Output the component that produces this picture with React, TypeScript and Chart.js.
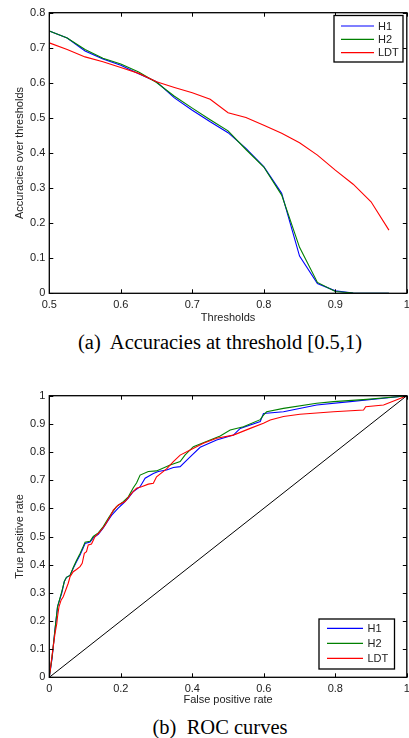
import React, { useEffect, useRef } from 'react';
import { Chart, registerables } from 'chart.js';
Chart.register(...registerables);

// ---------- Data: accuracies over thresholds ----------
const thresholds = [0.5, 0.525, 0.55, 0.575, 0.6, 0.625, 0.65, 0.675, 0.7, 0.725, 0.75, 0.775, 0.8, 0.825, 0.85, 0.875, 0.9, 0.925, 0.95, 0.975];
const accH1 = [0.748, 0.728, 0.691, 0.668, 0.650, 0.626, 0.603, 0.557, 0.522, 0.489, 0.458, 0.413, 0.361, 0.285, 0.106, 0.028, 0.007, 0.001, 0, 0];
const accH2 = [0.748, 0.728, 0.695, 0.670, 0.654, 0.631, 0.601, 0.562, 0.528, 0.495, 0.463, 0.410, 0.360, 0.280, 0.131, 0.031, 0.005, 0.001, 0, 0];
const accLDT = [0.714, 0.695, 0.674, 0.660, 0.644, 0.627, 0.603, 0.587, 0.572, 0.553, 0.515, 0.501, 0.479, 0.456, 0.429, 0.394, 0.351, 0.311, 0.261, 0.180];

// ---------- Data: ROC curves ----------
const rocH1Fpr = [0, 0.008, 0.016, 0.023, 0.026, 0.035, 0.042, 0.048, 0.058, 0.067, 0.076, 0.086, 0.095, 0.100, 0.114, 0.123, 0.137, 0.151, 0.165, 0.174, 0.192, 0.207, 0.221, 0.235, 0.254, 0.268, 0.291, 0.305, 0.328, 0.347, 0.366, 0.394, 0.422, 0.468, 0.515, 0.534, 0.590, 0.599, 0.655, 0.748, 0.841, 0.935, 1];
const rocH1Tpr = [0, 0.07, 0.17, 0.25, 0.263, 0.30, 0.34, 0.355, 0.362, 0.387, 0.41, 0.434, 0.46, 0.475, 0.48, 0.495, 0.508, 0.53, 0.558, 0.575, 0.60, 0.618, 0.636, 0.66, 0.677, 0.707, 0.724, 0.731, 0.736, 0.745, 0.748, 0.783, 0.817, 0.843, 0.86, 0.884, 0.908, 0.937, 0.943, 0.967, 0.979, 0.991, 1];
const rocH2Fpr = [0, 0.008, 0.016, 0.023, 0.035, 0.042, 0.048, 0.058, 0.067, 0.076, 0.086, 0.095, 0.100, 0.114, 0.123, 0.137, 0.151, 0.165, 0.174, 0.188, 0.207, 0.221, 0.235, 0.244, 0.254, 0.277, 0.300, 0.338, 0.366, 0.380, 0.403, 0.450, 0.478, 0.506, 0.543, 0.590, 0.599, 0.608, 0.655, 0.748, 0.795, 0.888, 0.981, 1];
const rocH2Tpr = [0, 0.075, 0.17, 0.25, 0.305, 0.34, 0.355, 0.362, 0.39, 0.415, 0.44, 0.465, 0.48, 0.483, 0.50, 0.513, 0.535, 0.565, 0.582, 0.606, 0.624, 0.641, 0.673, 0.69, 0.718, 0.731, 0.733, 0.754, 0.766, 0.79, 0.819, 0.843, 0.857, 0.878, 0.89, 0.915, 0.931, 0.943, 0.955, 0.973, 0.979, 0.987, 0.997, 1];
const rocLDTFpr = [0, 0.006, 0.011, 0.016, 0.021, 0.023, 0.027, 0.033, 0.039, 0.046, 0.053, 0.058, 0.067, 0.076, 0.086, 0.092, 0.098, 0.104, 0.109, 0.118, 0.128, 0.142, 0.156, 0.170, 0.179, 0.193, 0.212, 0.230, 0.244, 0.258, 0.277, 0.291, 0.300, 0.328, 0.347, 0.366, 0.394, 0.431, 0.468, 0.515, 0.562, 0.599, 0.618, 0.655, 0.701, 0.795, 0.879, 0.885, 0.935, 0.981, 1];
const rocLDTTpr = [0, 0.06, 0.109, 0.156, 0.191, 0.215, 0.25, 0.274, 0.286, 0.31, 0.334, 0.357, 0.375, 0.383, 0.393, 0.405, 0.44, 0.446, 0.47, 0.473, 0.50, 0.517, 0.541, 0.571, 0.594, 0.612, 0.624, 0.653, 0.671, 0.677, 0.686, 0.689, 0.712, 0.74, 0.766, 0.789, 0.807, 0.831, 0.849, 0.86, 0.884, 0.902, 0.914, 0.926, 0.934, 0.943, 0.949, 0.961, 0.967, 0.99, 1];
const chanceFpr = [0, 1];
const chanceTpr = [0, 1];

const seriesNames = ['H1', 'H2', 'LDT'];
const seriesColors = ['#0000ff', '#008000', '#ff0000'];

const FONT = '"Liberation Sans", Arial, Helvetica, sans-serif';
const TEXT = '#222';

const zip = (xs: number[], ys: number[]) => xs.map((x, i) => ({ x, y: ys[i] }));
const fmt = (v: any) => String(+Number(v).toFixed(1));

const matlabPlugin = {
  id: 'matlabFrame',
  afterDatasetsDraw(chart: any, _args: any, opts: any) {
    const { ctx, chartArea: a, scales } = chart;
    ctx.save();
    ctx.strokeStyle = '#000';
    ctx.lineWidth = 1;
    const tl = 4;
    ctx.beginPath();
    for (const t of scales.x.ticks) {
      const px = Math.round(scales.x.getPixelForValue(t.value)) + 0.5;
      ctx.moveTo(px, a.bottom); ctx.lineTo(px, a.bottom - tl);
      ctx.moveTo(px, a.top); ctx.lineTo(px, a.top + tl);
    }
    for (const t of scales.y.ticks) {
      const py = Math.round(scales.y.getPixelForValue(t.value)) + 0.5;
      ctx.moveTo(a.left, py); ctx.lineTo(a.left + tl, py);
      ctx.moveTo(a.right, py); ctx.lineTo(a.right - tl, py);
    }
    ctx.stroke();
    ctx.lineWidth = 1.3;
    ctx.strokeRect(a.left, a.top, a.right - a.left, a.bottom - a.top);

    const lg = opts.legend;
    if (lg) {
      ctx.fillStyle = '#fff';
      ctx.fillRect(lg.x, lg.y, lg.w, lg.h);
      ctx.lineWidth = 1.3;
      ctx.strokeStyle = '#000';
      ctx.strokeRect(lg.x, lg.y, lg.w, lg.h);
      const items = chart.data.datasets.filter((d: any) => d.label);
      items.forEach((d: any, i: number) => {
        const y = lg.row0 + i * lg.gap;
        ctx.strokeStyle = d.borderColor;
        ctx.lineWidth = 1.2;
        ctx.beginPath();
        ctx.moveTo(lg.lx0, y); ctx.lineTo(lg.lx1, y);
        ctx.stroke();
        ctx.fillStyle = TEXT;
        ctx.font = `11px ${FONT}`;
        ctx.textBaseline = 'middle';
        ctx.textAlign = 'left';
        ctx.fillText(d.label, lg.tx, y + 0.5);
      });
    }
    ctx.restore();
  },
};

type PlotProps = {
  width: number; height: number; top: number;
  datasets: any[];
  xMin: number; xMax: number; xStep: number;
  yMin: number; yMax: number; yStep: number;
  xTitle: string; yTitle: string;
  padTop: number; plotBottom: number; xTitlePad: number;
  legend: any;
};

function Plot(p: PlotProps) {
  const ref = useRef<HTMLCanvasElement>(null);
  useEffect(() => {
    const chart = new Chart(ref.current as HTMLCanvasElement, {
      type: 'line',
      data: { datasets: p.datasets },
      plugins: [matlabPlugin],
      options: {
        responsive: false,
        animation: false,
        events: [],
        layout: { padding: { left: 0, right: 2.2, top: p.padTop, bottom: 0 } },
        elements: { point: { radius: 0 }, line: { tension: 0 } },
        plugins: {
          legend: { display: false },
          tooltip: { enabled: false },
          matlabFrame: { legend: p.legend },
        } as any,
        scales: {
          x: {
            type: 'linear', min: p.xMin, max: p.xMax,
            grid: { display: false, drawTicks: false },
            border: { display: false },
            ticks: { stepSize: p.xStep, padding: 5, color: TEXT, font: { family: FONT, size: 11 }, callback: fmt, maxRotation: 0, autoSkip: false },
            title: { display: true, text: p.xTitle, color: TEXT, font: { family: FONT, size: 11 }, padding: { top: 0, bottom: p.xTitlePad } },
            afterFit: (s: any) => { s.height = p.height - p.plotBottom; s.paddingLeft = 0; s.paddingRight = 0; },
          },
          y: {
            type: 'linear', min: p.yMin, max: p.yMax,
            grid: { display: false, drawTicks: false },
            border: { display: false },
            ticks: { stepSize: p.yStep, padding: 4, color: TEXT, font: { family: FONT, size: 11 }, callback: fmt, autoSkip: false },
            title: { display: true, text: p.yTitle, color: TEXT, font: { family: FONT, size: 11 }, padding: { top: 13.4, bottom: 0 } },
            afterFit: (s: any) => { s.width = 49.3; s.paddingTop = 0; s.paddingBottom = 0; },
          },
        } as any,
      },
    });
    return () => chart.destroy();
  }, []);
  return (
    <canvas ref={ref} width={p.width} height={p.height}
      style={{ position: 'absolute', left: 0, top: p.top, width: p.width, height: p.height }} />
  );
}

const captionStyle = (top: number): React.CSSProperties => ({
  position: 'absolute', left: 0, width: 440, top, textAlign: 'center',
  fontFamily: '"Liberation Serif", "Times New Roman", serif', fontSize: 20.5, lineHeight: '24px', color: '#000', whiteSpace: 'pre',
});

export default function App() {
  const mk = (data: number[], i: number, order: number) => ({
    label: seriesNames[i], data: zip(thresholds, data), borderColor: seriesColors[i], borderWidth: 1.1, order, fill: false,
  });
  const accSets = [mk(accH1, 0, 2), mk(accH2, 1, 1), mk(accLDT, 2, 0)];
  const rocSets = [
    { label: seriesNames[0], data: zip(rocH1Fpr, rocH1Tpr), borderColor: seriesColors[0], borderWidth: 1.1, order: 2 },
    { label: seriesNames[1], data: zip(rocH2Fpr, rocH2Tpr), borderColor: seriesColors[1], borderWidth: 1.1, order: 1 },
    { label: seriesNames[2], data: zip(rocLDTFpr, rocLDTTpr), borderColor: seriesColors[2], borderWidth: 1.1, order: 0 },
    { label: '', data: zip(chanceFpr, chanceTpr), borderColor: '#000', borderWidth: 1, order: 3 },
  ];
  return (
    <div style={{ position: 'fixed', left: 0, top: 0, width: 409, height: 738, background: '#fff', overflow: 'hidden' }}>
      <Plot width={409} height={330} top={0} datasets={accSets}
        xMin={0.5} xMax={1} xStep={0.1} yMin={0} yMax={0.8} yStep={0.1}
        xTitle="Thresholds" yTitle="Accuracies over thresholds"
        padTop={12.7} plotBottom={293.3} xTitlePad={5.9}
        legend={{ x: 334, y: 15.5, w: 69, h: 46.5, row0: 26, gap: 13.3, lx0: 341, lx1: 374, tx: 378 }} />
      <div style={captionStyle(329.8)}>{'(a)  Accuracies at threshold [0.5,1)'}</div>
      <Plot width={409} height={355} top={360} datasets={rocSets}
        xMin={0} xMax={1} xStep={0.2} yMin={0} yMax={1} yStep={0.1}
        xTitle="False positive rate" yTitle="True positive rate"
        padTop={35.7} plotBottom={317.3} xTitlePad={8.4}
        legend={{ x: 319, y: 259, w: 75.5, h: 50, row0: 268.3, gap: 15, lx0: 327, lx1: 363, tx: 367.5 }} />
      <div style={captionStyle(715.3)}>{'(b)  ROC curves'}</div>
    </div>
  );
}
